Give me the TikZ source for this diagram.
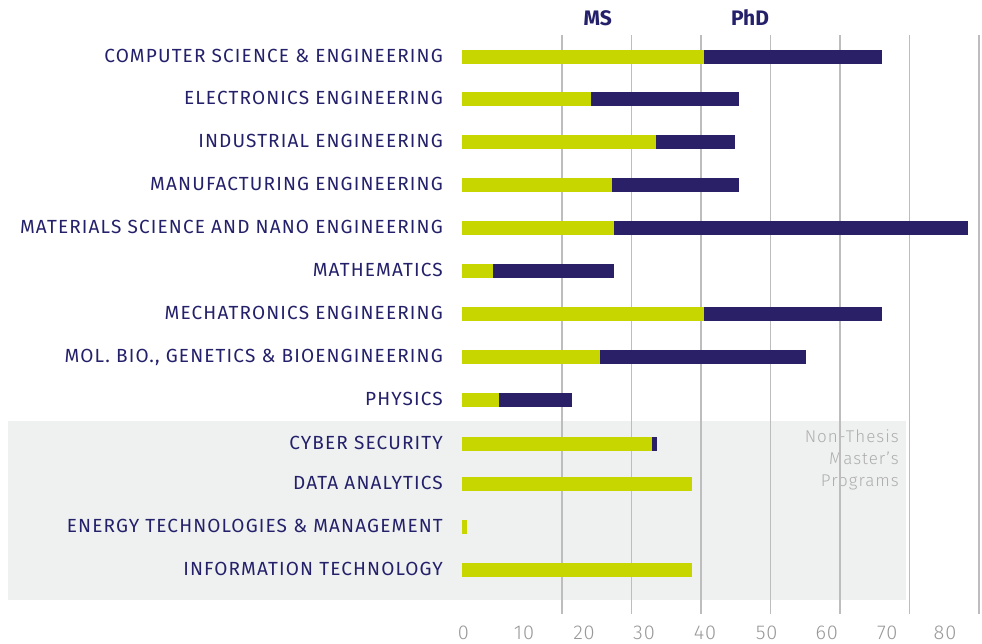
\documentclass[tikz,border=0pt]{standalone}
\usepackage{fontspec}
\setmainfont{Fira Sans}
\newfontfamily\labelfont{Fira Sans}[LetterSpace=6]
\newfontfamily\lightfont{Fira Sans Light}[LetterSpace=6]
\newfontfamily\digitfont{Fira Sans Light}[LetterSpace=4]
\definecolor{navy}{HTML}{2A2068}
\definecolor{labelnavy}{HTML}{24216A}
\definecolor{lime}{HTML}{C8D600}
\definecolor{panel}{HTML}{EFF1F0}
\definecolor{gridgrey}{HTML}{BDBDBD}
\definecolor{axisgrey}{HTML}{999999}
\definecolor{notegrey}{HTML}{ADADAD}
\begin{document}
\begin{tikzpicture}[x=1pt,y=-1pt,
  catlabel/.style={anchor=base east, inner sep=0pt, text=labelnavy, font=\labelfont\fontsize{19}{19}\selectfont},
  msbar/.style={fill=lime},
  phdbar/.style={fill=navy},
  gridline/.style={draw=gridgrey, line width=1.5pt},
  ticklabel/.style={anchor=base, inner sep=0pt, text=axisgrey, font=\digitfont\fontsize{20}{20}\selectfont},
  legendlabel/.style={anchor=base, inner sep=0pt, text=labelnavy, font=\bfseries\fontsize{21}{21}\selectfont},
  notelabel/.style={anchor=base east, inner sep=0pt, text=notegrey, font=\lightfont\fontsize{17}{17}\selectfont}]
\useasboundingbox[fill=white] (0,0) rectangle (982,643);
% panel for non-thesis programs
\fill[panel] (8,421) rectangle (906,600);
\node[notelabel] (n1) at (899,442) {Non-Thesis};
\node[notelabel] (n2) at (899,464) {Master’s};
\node[notelabel] (n3) at (899,486) {Programs};
% grid
\foreach \x in {562,631.5,701,770.5,840,909.5,979}
  \draw[gridline] (\x,35) -- (\x,613.5);
% legend
\node[legendlabel] (ms) at (597.8,25) {MS};
\node[legendlabel] (phd) at (750,25) {PhD};
% bars
\fill[msbar] (462,50) rectangle (704,64);   \fill[phdbar] (704,50) rectangle (881.5,64);
\fill[msbar] (462,92) rectangle (590.7,106); \fill[phdbar] (590.7,92) rectangle (739.2,106);
\fill[msbar] (462,135) rectangle (655.7,149); \fill[phdbar] (655.7,135) rectangle (735.1,149);
\fill[msbar] (462,178) rectangle (611.8,192); \fill[phdbar] (611.8,178) rectangle (739.2,192);
\fill[msbar] (462,221) rectangle (613.5,235); \fill[phdbar] (613.5,221) rectangle (968,235);
\fill[msbar] (462,264) rectangle (493.3,278); \fill[phdbar] (493.3,264) rectangle (613.5,278);
\fill[msbar] (462,307) rectangle (704,321);   \fill[phdbar] (704,307) rectangle (881.5,321);
\fill[msbar] (462,350) rectangle (599.5,364); \fill[phdbar] (599.5,350) rectangle (806.3,364);
\fill[msbar] (462,393) rectangle (499,407);   \fill[phdbar] (499,393) rectangle (571.6,407);
\fill[msbar] (462,437) rectangle (652,451);   \fill[phdbar] (652,437) rectangle (657,451);
\fill[msbar] (462,477) rectangle (692,491);
\fill[msbar] (462,520) rectangle (467,534);
\fill[msbar] (462,563) rectangle (692,577);
% category labels
\node[catlabel] (c1) at (443,62.5) {COMPUTER SCIENCE \& ENGINEERING};
\node[catlabel] (c2) at (443,104.5) {ELECTRONICS ENGINEERING};
\node[catlabel] (c3) at (443,147.5) {INDUSTRIAL ENGINEERING};
\node[catlabel] (c4) at (443,190.5) {MANUFACTURING ENGINEERING};
\node[catlabel] (c5) at (443,233.5) {MATERIALS SCIENCE AND NANO ENGINEERING};
\node[catlabel] (c6) at (443,276.5) {MATHEMATICS};
\node[catlabel] (c7) at (443,319.5) {MECHATRONICS ENGINEERING};
\node[catlabel] (c8) at (443,362.5) {MOL. BIO., GENETICS \& BIOENGINEERING};
\node[catlabel] (c9) at (443,405.5) {PHYSICS};
\node[catlabel] (c10) at (443,449.5) {CYBER SECURITY};
\node[catlabel] (c11) at (443,489.5) {DATA ANALYTICS};
\node[catlabel] (c12) at (443,532.5) {ENERGY TECHNOLOGIES \& MANAGEMENT};
\node[catlabel] (c13) at (443,575.5) {INFORMATION TECHNOLOGY};
% axis labels
\node[ticklabel] (t0) at (463.3,639) {0};
\node[ticklabel] (t1) at (524,639) {10};
\node[ticklabel] (t2) at (584,639) {20};
\node[ticklabel] (t3) at (644,639) {30};
\node[ticklabel] (t4) at (705,639) {40};
\node[ticklabel] (t5) at (766.7,639) {50};
\node[ticklabel] (t6) at (826.7,639) {60};
\node[ticklabel] (t7) at (887.3,639) {70};
\node[ticklabel] (t8) at (945,639) {80};
\end{tikzpicture}
\end{document}
